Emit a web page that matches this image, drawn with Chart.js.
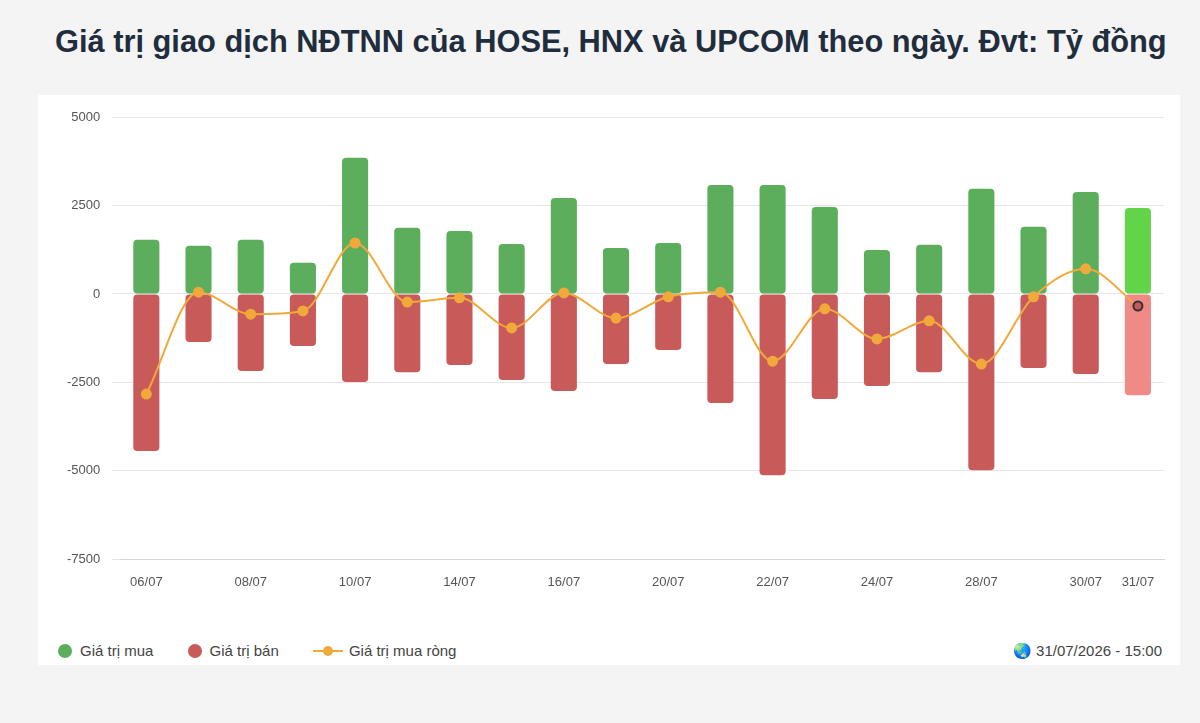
<!DOCTYPE html>
<html>
<head>
<meta charset="utf-8">
<script src="https://cdn.jsdelivr.net/npm/chart.js@4"></script>
<style>
  body { margin: 0; background: #f4f4f4; font-family: "Liberation Sans", Arial, sans-serif; }
  h1 { position: absolute; left: 55px; top: 24px; margin: 0; font-size: 30.8px; font-weight: bold; color: #1f2d3d; white-space: nowrap; }
  .card { position: absolute; left: 38px; top: 95px; width: 1142px; height: 570px; background: #fff; }
  .wrap { position: absolute; left: 0; top: 0; width: 1142px; height: 502px; }
  .legend { position: absolute; left: 20px; top: 547px; font-size: 15px; color: #444; }
  .legend span { margin-right: 30px; display: inline-flex; align-items: center; }
  .dot { width: 14px; height: 14px; border-radius: 50%; display: inline-block; margin-right: 8px; }
  .stamp { position: absolute; right: 18px; top: 547px; font-size: 15px; color: #444; }
</style>
</head>
<body>
<h1>Giá trị giao dịch NĐTNN của HOSE, HNX và UPCOM theo ngày. Đvt: Tỷ đồng</h1>
<div class="card">
  <div class="wrap"><canvas id="c"></canvas></div>
  <div class="legend">
    <span><i class="dot" style="background:#5cae5c"></i>Giá trị mua</span>
    <span><i class="dot" style="background:#c95a5a"></i>Giá trị bán</span>
    <span><svg width="30" height="14" style="margin-right:6px"><line x1="0" y1="7" x2="30" y2="7" stroke="#f0a93a" stroke-width="2"/><circle cx="15" cy="7" r="5" fill="#f0a93a"/></svg>Giá trị mua ròng</span>
  </div>
  <div class="stamp">🌏 31/07/2026 - 15:00</div>
</div>
<script>
const days = ['06/07','07/07','08/07','09/07','10/07','13/07','14/07','15/07','16/07','17/07',
              '20/07','21/07','22/07','23/07','24/07','27/07','28/07','29/07','30/07','31/07'];
const buyValues = [1530,1360,1530,880,3850,1870,1780,1410,2710,1300,1440,3080,3080,2460,1240,1390,2970,1900,2880,2430];
const sellValues = [-4440,-1360,-2180,-1470,-2490,-2210,-2010,-2430,-2740,-1980,-1580,-3080,-5120,-2970,-2600,-2210,-4980,-2090,-2260,-2860];
const netValues = [-2830,50,-570,-480,1440,-230,-110,-960,30,-680,-80,50,-1900,-420,-1270,-760,-1980,-80,710,-340];
const yTicks = [5000,2500,0,-2500,-5000,-7500];

const last = days.length - 1;
const buyColors = days.map((d, i) => i === last ? '#62d44a' : '#5cae5c');
const sellColors = days.map((d, i) => i === last ? '#ef8a86' : '#c95a5a');
const netFill = days.map((d, i) => i === last ? '#c95a5a' : '#f0a93a');
const netBorder = days.map((d, i) => i === last ? '#333' : '#f0a93a');

new Chart(document.getElementById('c'), {
    data: {
        labels: days,
        datasets: [
            { type: 'line', data: netValues, borderColor: '#f0a93a', borderWidth: 2,
              pointBackgroundColor: netFill, pointBorderColor: netBorder, pointRadius: 4.5,
              cubicInterpolationMode: 'monotone', order: 0 },
            { type: 'bar', data: buyValues, backgroundColor: buyColors, stack: 's',
              barPercentage: 0.5, categoryPercentage: 1, borderRadius: 4, borderSkipped: false, order: 1 },
            { type: 'bar', data: sellValues, backgroundColor: sellColors, stack: 's',
              barPercentage: 0.5, categoryPercentage: 1, borderRadius: 4, borderSkipped: false, order: 1 }
        ]
    },
    options: {
        responsive: true,
        maintainAspectRatio: false,
        animation: false,
        layout: { padding: { top: 22, right: 16, left: 17, bottom: 0 } },
        plugins: { legend: { display: false }, tooltip: { enabled: false } },
        scales: {
            x: {
                stacked: true,
                grid: { display: false },
                border: { color: '#cdd3e0' },
                ticks: {
                    autoSkip: false, maxRotation: 0, color: '#555', font: { size: 13, family: 'Liberation Sans' }, padding: 7,
                    callback: function(v, i) { return (i % 2 === 0 || i === last) ? days[i] : ''; }
                }
            },
            y: {
                stacked: true,
                min: -7500, max: 5000,
                afterBuildTicks: axis => { axis.ticks = yTicks.map(v => ({ value: v })); },
                grid: { color: '#e6e6e6' },
                border: { display: false },
                ticks: { color: '#555', font: { size: 13, family: 'Liberation Sans' }, padding: 12,
                         callback: v => String(v) }
            }
        }
    }
});
</script>
</body>
</html>
